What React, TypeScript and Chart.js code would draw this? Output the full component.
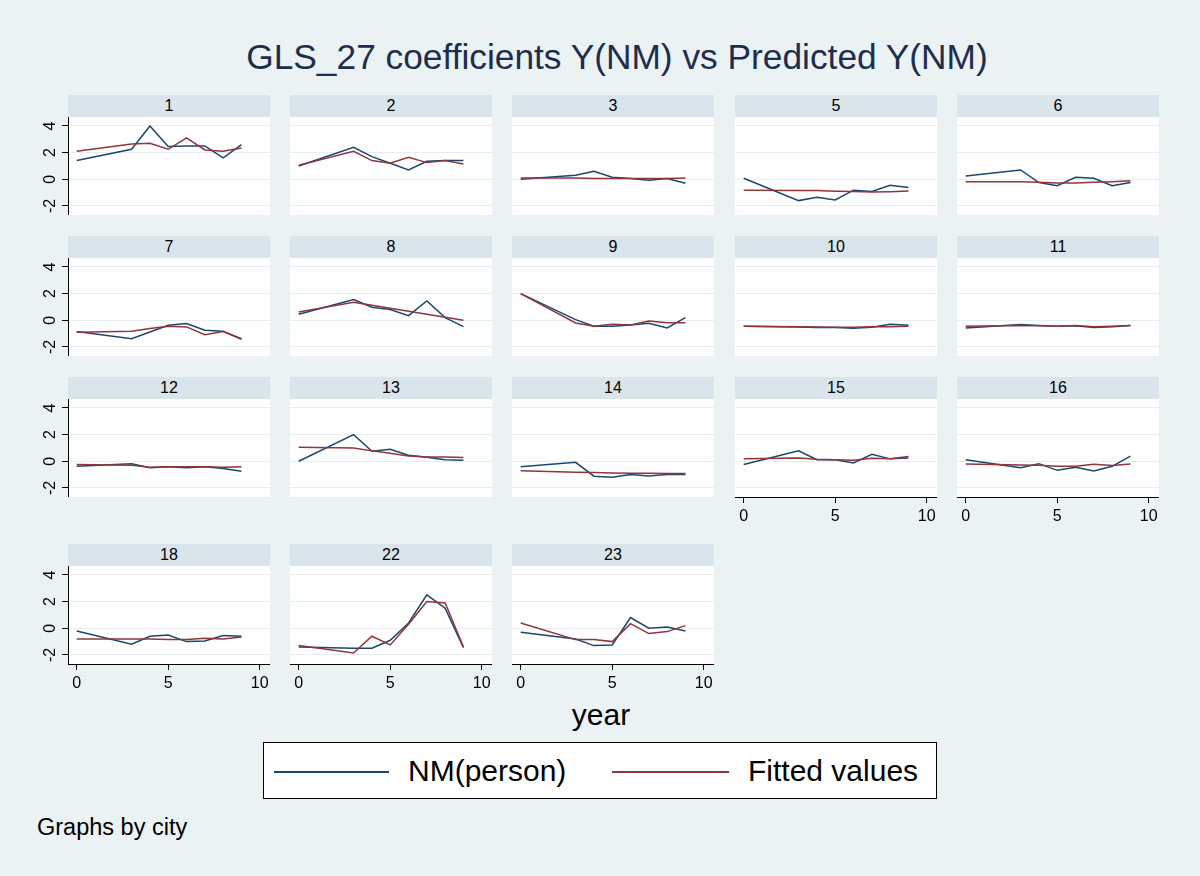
import React, { useEffect, useRef } from "react";
import { Chart, registerables } from "chart.js";

Chart.register(...registerables);

// ---------------- data ----------------
const years = [0, 3, 4, 5, 6, 7, 8, 9];
const cityLabels = ["1", "2", "3", "5", "6", "7", "8", "9", "10", "11", "12", "13", "14", "15", "16", "18", "22", "23"];
const yTickValues = [-2, 0, 2, 4];
const xTickValues = [0, 5, 10];
const seriesNames = ["NM(person)", "Fitted values"];

const nm1 = [1.4, 2.25, 4.0, 2.45, 2.5, 2.5, 1.6, 2.6];
const fit1 = [2.1, 2.65, 2.7, 2.25, 3.1, 2.2, 2.1, 2.35];
const nm2 = [1.0, 2.4, 1.7, 1.2, 0.7, 1.35, 1.4, 1.4];
const fit2 = [1.05, 2.1, 1.4, 1.2, 1.65, 1.25, 1.4, 1.15];
const nm3 = [0.0, 0.3, 0.6, 0.15, 0.05, -0.08, 0.05, -0.3];
const fit3 = [0.1, 0.1, 0.05, 0.05, 0.05, 0.05, 0.05, 0.1];
const nm5 = [0.08, -1.6, -1.35, -1.55, -0.82, -0.92, -0.45, -0.62];
const fit5 = [-0.82, -0.84, -0.85, -0.9, -0.92, -0.95, -0.93, -0.88];
const nm6 = [0.25, 0.7, -0.25, -0.48, 0.15, 0.08, -0.48, -0.25];
const fit6 = [-0.18, -0.18, -0.22, -0.28, -0.28, -0.22, -0.18, -0.12];
const nm7 = [-0.85, -1.38, -0.88, -0.38, -0.25, -0.75, -0.82, -1.42];
const fit7 = [-0.9, -0.82, -0.62, -0.45, -0.5, -1.08, -0.85, -1.38];
const nm8 = [0.45, 1.55, 0.98, 0.8, 0.35, 1.45, 0.2, -0.48];
const fit8 = [0.62, 1.35, 1.12, 0.9, 0.68, 0.45, 0.22, 0.0];
const nm9 = [2.0, 0.05, -0.45, -0.45, -0.35, -0.22, -0.58, 0.2];
const fit9 = [2.0, -0.2, -0.45, -0.3, -0.35, -0.05, -0.18, -0.18];
const nm10 = [-0.45, -0.5, -0.55, -0.55, -0.6, -0.52, -0.3, -0.38];
const fit10 = [-0.45, -0.48, -0.5, -0.52, -0.52, -0.48, -0.48, -0.45];
const nm11 = [-0.58, -0.32, -0.4, -0.45, -0.42, -0.55, -0.48, -0.4];
const fit11 = [-0.45, -0.4, -0.42, -0.45, -0.4, -0.48, -0.45, -0.4];
const nm12 = [-0.38, -0.18, -0.48, -0.42, -0.48, -0.42, -0.55, -0.75];
const fit12 = [-0.25, -0.3, -0.45, -0.42, -0.42, -0.42, -0.45, -0.42];
const nm13 = [0.0, 2.0, 0.75, 0.9, 0.45, 0.3, 0.12, 0.08];
const fit13 = [1.05, 1.0, 0.78, 0.6, 0.4, 0.32, 0.32, 0.28];
const nm14 = [-0.42, -0.08, -1.12, -1.2, -1.0, -1.1, -1.0, -1.0];
const fit14 = [-0.72, -0.82, -0.85, -0.88, -0.9, -0.9, -0.92, -0.92];
const nm15 = [-0.25, 0.78, 0.12, 0.12, -0.12, 0.52, 0.18, 0.25];
const fit15 = [0.18, 0.25, 0.15, 0.12, 0.08, 0.22, 0.18, 0.35];
const nm16 = [0.12, -0.48, -0.18, -0.68, -0.45, -0.72, -0.38, 0.38];
const fit16 = [-0.2, -0.28, -0.3, -0.38, -0.38, -0.22, -0.32, -0.2];
const nm18 = [-0.2, -1.2, -0.6, -0.5, -1.0, -0.95, -0.55, -0.6];
const fit18 = [-0.8, -0.8, -0.8, -0.85, -0.85, -0.75, -0.8, -0.65];
const nm22 = [-1.4, -1.5, -1.5, -0.9, 0.4, 2.5, 1.5, -1.45];
const fit22 = [-1.3, -1.85, -0.6, -1.25, 0.3, 2.0, 1.9, -1.4];
const nm23 = [-0.3, -0.8, -1.3, -1.25, 0.8, 0.0, 0.1, -0.2];
const fit23 = [0.4, -0.85, -0.85, -1.0, 0.35, -0.4, -0.25, 0.2];

const observedSeries = [nm1, nm2, nm3, nm5, nm6, nm7, nm8, nm9, nm10, nm11, nm12, nm13, nm14, nm15, nm16, nm18, nm22, nm23];
const fittedSeries = [fit1, fit2, fit3, fit5, fit6, fit7, fit8, fit9, fit10, fit11, fit12, fit13, fit14, fit15, fit16, fit18, fit22, fit23];

// ---------------- style / layout ----------------
const FONT = "'Liberation Sans', Arial, Helvetica, sans-serif";
const BG = "#EAF2F3";
const STRIP = "#D9E5EA";
const GRID = "#E6EEF1";
const NAVY = "#1A476F";
const MAROON = "#90353B";

const COLS = 5;
const COL_LEFT0 = 67.7;
const COL_STEP = 222.3;
const ROW_TOPS = [95, 236, 377, 544];
const HEADER_H = 22;
const PLOT_W = 202;
const PLOT_H = 98;
const Y_AXIS_W = 42;
const X_AXIS_H = 30;
const Y_MIN = -2.68;
const Y_MAX = 4.67;
const X_MIN = -0.475;
const X_MAX = 10.56;

function Panel({ index }: { index: number }) {
  const ref = useRef<HTMLCanvasElement>(null);
  const row = Math.floor(index / COLS);
  const col = index % COLS;
  const showY = col === 0;
  const showX = index >= 13;
  const plotLeft = Math.round(COL_LEFT0 + col * COL_STEP);
  const top = ROW_TOPS[row];
  const yw = showY ? Y_AXIS_W : 0;
  const xh = showX ? X_AXIS_H : 0;
  const cw = PLOT_W + yw;
  const ch = PLOT_H + xh;

  useEffect(() => {
    if (!ref.current) return;
    const obs = observedSeries[index];
    const fit = fittedSeries[index];
    const chart = new Chart(ref.current, {
      type: "line",
      data: {
        datasets: [
          {
            label: seriesNames[0],
            data: years.map((x, i) => ({ x, y: obs[i] })),
            borderColor: NAVY,
            backgroundColor: NAVY,
            borderWidth: 1.5,
            pointRadius: 0,
            tension: 0,
            order: 1,
          },
          {
            label: seriesNames[1],
            data: years.map((x, i) => ({ x, y: fit[i] })),
            borderColor: MAROON,
            backgroundColor: MAROON,
            borderWidth: 1.5,
            pointRadius: 0,
            tension: 0,
            order: 0,
          },
        ],
      },
      options: {
        responsive: false,
        animation: false,
        events: [],
        layout: { padding: 0 },
        plugins: { legend: { display: false }, tooltip: { enabled: false }, title: { display: false } },
        scales: {
          x: {
            type: "linear",
            display: showX,
            min: X_MIN,
            max: X_MAX,
            afterBuildTicks: (s: any) => {
              s.ticks = xTickValues.map((v) => ({ value: v }));
            },
            afterFit: (s: any) => {
              s.height = showX ? X_AXIS_H : 0;
              s.paddingLeft = 0;
              s.paddingRight = 0;
              s.paddingTop = 0;
              s.paddingBottom = 0;
            },
            grid: { drawOnChartArea: false, drawTicks: true, tickLength: 6, tickColor: "#000", tickWidth: 1 },
            border: { display: true, color: "#000", width: 1 },
            ticks: {
              color: "#000",
              padding: 4,
              maxRotation: 0,
              minRotation: 0,
              font: { family: FONT, size: 16 },
            },
          },
          y: {
            type: "linear",
            display: true,
            min: Y_MIN,
            max: Y_MAX,
            afterBuildTicks: (s: any) => {
              s.ticks = yTickValues.map((v) => ({ value: v }));
            },
            afterCalculateLabelRotation: (s: any) => {
              s.labelRotation = showY ? 90 : 0;
            },
            afterFit: (s: any) => {
              s.width = showY ? Y_AXIS_W : 0;
              s.paddingLeft = 0;
              s.paddingRight = 0;
              s.paddingTop = 0;
              s.paddingBottom = 0;
            },
            grid: {
              color: GRID,
              lineWidth: 1,
              drawTicks: showY,
              tickLength: 6,
              tickColor: "#000",
              tickWidth: 1,
            },
            border: { display: showY, color: "#000", width: 1 },
            ticks: {
              display: showY,
              color: "#000",
              padding: 4,
              minRotation: 90,
              maxRotation: 90,
              crossAlign: "center",
              font: { family: FONT, size: 16 },
            },
          },
        },
      },
    } as any);
    return () => chart.destroy();
  }, [index]);

  return (
    <>
      <div
        style={{
          position: "absolute",
          left: plotLeft,
          top: top,
          width: PLOT_W,
          height: HEADER_H,
          background: STRIP,
          color: "#000",
          fontFamily: FONT,
          fontSize: 16,
          lineHeight: HEADER_H + "px",
          textAlign: "center",
        }}
      >
        {cityLabels[index]}
      </div>
      <div style={{ position: "absolute", left: plotLeft, top: top + HEADER_H, width: PLOT_W, height: PLOT_H, background: "#fff" }} />
      <canvas
        ref={ref}
        width={cw}
        height={ch}
        style={{ position: "absolute", left: plotLeft - yw, top: top + HEADER_H, width: cw, height: ch }}
      />
    </>
  );
}

export default function App() {
  return (
    <div
      style={{
        position: "absolute",
        left: 0,
        top: 0,
        width: 1200,
        height: 876,
        background: BG,
        fontFamily: FONT,
        overflow: "hidden",
      }}
    >
      <div
        style={{
          position: "absolute",
          left: 617,
          top: 37,
          transform: "translateX(-50%)",
          whiteSpace: "nowrap",
          fontSize: 35.3,
          lineHeight: "40px",
          color: "#1E2D4F",
        }}
      >
        GLS_27 coefficients Y(NM) vs Predicted Y(NM)
      </div>

      {cityLabels.map((_, i) => (
        <Panel key={i} index={i} />
      ))}

      <div
        style={{
          position: "absolute",
          left: 601,
          top: 697,
          transform: "translateX(-50%)",
          fontSize: 30,
          lineHeight: "36px",
          color: "#000",
          whiteSpace: "nowrap",
        }}
      >
        year
      </div>

      <div
        style={{
          position: "absolute",
          left: 263,
          top: 742,
          width: 672,
          height: 55,
          background: "#fff",
          border: "1px solid #000",
        }}
      >
        <div style={{ position: "absolute", left: 10, top: 28, width: 115, height: 0, borderTop: "2px solid " + NAVY }} />
        <div style={{ position: "absolute", left: 144, top: 10, fontSize: 30, lineHeight: "36px", color: "#000", whiteSpace: "nowrap" }}>
          {seriesNames[0]}
        </div>
        <div style={{ position: "absolute", left: 348, top: 28, width: 117, height: 0, borderTop: "2px solid " + MAROON }} />
        <div style={{ position: "absolute", left: 484, top: 10, fontSize: 30, lineHeight: "36px", color: "#000", whiteSpace: "nowrap" }}>
          {seriesNames[1]}
        </div>
      </div>

      <div
        style={{
          position: "absolute",
          left: 37,
          top: 813,
          fontSize: 23.5,
          lineHeight: "28px",
          color: "#000",
          whiteSpace: "nowrap",
        }}
      >
        Graphs by city
      </div>
    </div>
  );
}
